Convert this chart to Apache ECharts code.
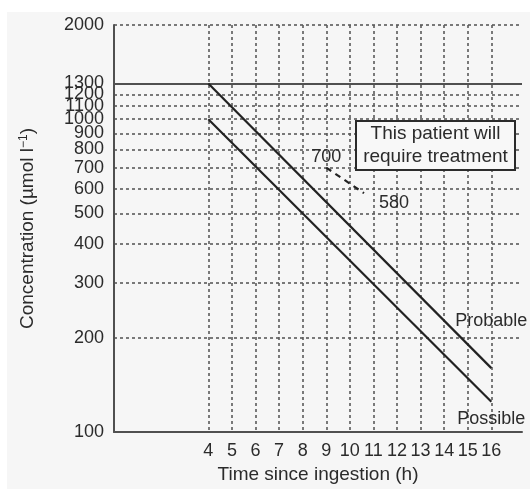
<!DOCTYPE html>
<html>
<head>
<meta charset="utf-8">
<script src="https://cdn.jsdelivr.net/npm/echarts@6/dist/echarts.min.js"></script>
<style>
  html, body { margin: 0; padding: 0; background: #ffffff; }
  #chart { width: 530px; height: 489px; }
</style>
</head>
<body>
<div id="chart"></div>
<script>
// Tick positions
const timeTicks = [4, 5, 6, 7, 8, 9, 10, 11, 12, 13, 14, 15, 16];
const concTicks = [100, 200, 300, 400, 500, 600, 700, 800, 900, 1000, 1100, 1200, 1300, 2000];

// Treatment lines (µmol/l against hours since ingestion)
const probableTime = [4, 16];
const probableConc = [1300, 160];
const possibleTime = [4, 16];
const possibleConc = [1000, 125];

// Patient measurements
const patientTime = [9, 10.6];
const patientConc = [700, 580];

// Horizontal threshold
const thresholdConc = 1300;

const FONT = '"Liberation Sans", Arial, sans-serif';
const INK = '#2b2b2b';
const GRID = '#5a5a5a';

const pairs = (xs, ys) => xs.map((x, i) => [x, ys[i]]);
const hidden = { show: false };

const chart = echarts.init(document.getElementById('chart'), null, { renderer: 'canvas' });

const probableData = pairs(probableTime, probableConc).map(p => ({ value: p, label: hidden }));
probableData[probableData.length - 1].label =
  { show: true, formatter: 'Probable', position: 'top', distance: 5, offset: [0, -33] };

const possibleData = pairs(possibleTime, possibleConc).map(p => ({ value: p, label: hidden }));
possibleData[possibleData.length - 1].label =
  { show: true, formatter: 'Possible', position: 'bottom', distance: 1, offset: [0, 7] };

const patientData = pairs(patientTime, patientConc).map((p, i) => ({
  value: p,
  label: i === 0
    ? { show: true, formatter: String(p[1]), position: 'top', distance: 2, offset: [0, 0] }
    : { show: true, formatter: String(p[1]), position: 'right', distance: 4, offset: [11, 10] }
}));

const lineLabel = { color: INK, fontSize: 18, fontFamily: FONT };

chart.setOption({
  animation: false,
  backgroundColor: '#ffffff',
  graphic: [
    { type: 'rect', z: -10, silent: true,
      shape: { x: 7, y: 12, width: 523, height: 477 },
      style: { fill: '#f6f6f6' } },
    { type: 'rect', z: 100, silent: true,
      shape: { x: 356, y: 121, width: 159, height: 49 },
      style: { fill: '#f8f8f8', stroke: INK, lineWidth: 2 } },
    { type: 'text', z: 101, silent: true, x: 435.5, y: 134,
      style: { text: 'This patient will', fill: INK, font: '19px ' + FONT, align: 'center', verticalAlign: 'middle' } },
    { type: 'text', z: 101, silent: true, x: 435.5, y: 157,
      style: { text: 'require treatment', fill: INK, font: '19px ' + FONT, align: 'center', verticalAlign: 'middle' } }
  ],
  grid: { left: 114, right: 8, top: 25, bottom: 54, containLabel: false },
  xAxis: {
    type: 'value',
    min: 0,
    max: 17.3,
    name: 'Time since ingestion (h)',
    nameLocation: 'middle',
    nameGap: 33,
    nameTextStyle: { color: INK, fontSize: 19, fontFamily: FONT },
    axisLine: { show: true, lineStyle: { color: '#505050', width: 2 } },
    axisTick: { show: false, customValues: timeTicks },
    axisLabel: { customValues: timeTicks, color: INK, fontSize: 18, fontFamily: FONT, margin: 10 },
    splitLine: { show: true, lineStyle: { color: GRID, width: 1.6, type: [3, 3] } }
  },
  yAxis: {
    type: 'log',
    logBase: 10,
    min: 100,
    max: 2000,
    name: '{a|Concentration (µmol l}{s|−1}{a|)}',
    nameLocation: 'middle',
    nameGap: 76,
    nameTextStyle: {
      rich: {
        a: { color: INK, fontSize: 19, fontFamily: FONT },
        s: { color: INK, fontSize: 12, fontFamily: FONT, verticalAlign: 'top', padding: [0, 0, 8, 0] }
      }
    },
    axisLine: { show: true, lineStyle: { color: '#505050', width: 2 } },
    axisTick: { show: false, customValues: concTicks },
    axisLabel: {
      customValues: concTicks, color: INK, fontSize: 18, fontFamily: FONT, margin: 10,
      formatter: v => String(Math.round(v))
    },
    splitLine: { show: true, lineStyle: { color: GRID, width: 1.6, type: [3, 3] } }
  },
  series: [
    {
      type: 'line',
      name: 'Probable',
      data: probableData,
      showSymbol: true,
      symbol: 'circle',
      symbolSize: 0,
      lineStyle: { color: '#222222', width: 2.2 },
      itemStyle: { color: INK },
      label: lineLabel,
      markLine: {
        silent: true,
        symbol: 'none',
        label: { show: false },
        lineStyle: { color: '#505050', width: 1.8, type: 'solid' },
        data: [{ yAxis: thresholdConc }]
      },
      z: 5
    },
    {
      type: 'line',
      name: 'Possible',
      data: possibleData,
      showSymbol: true,
      symbol: 'circle',
      symbolSize: 0,
      lineStyle: { color: '#222222', width: 2.2 },
      itemStyle: { color: INK },
      label: lineLabel,
      z: 5
    },
    {
      type: 'line',
      name: 'Patient',
      data: patientData,
      showSymbol: true,
      symbol: 'circle',
      symbolSize: 0,
      lineStyle: { color: '#222222', width: 2.2, type: [6, 5] },
      itemStyle: { color: INK },
      label: lineLabel,
      z: 5
    }
  ]
});
</script>
</body>
</html>
